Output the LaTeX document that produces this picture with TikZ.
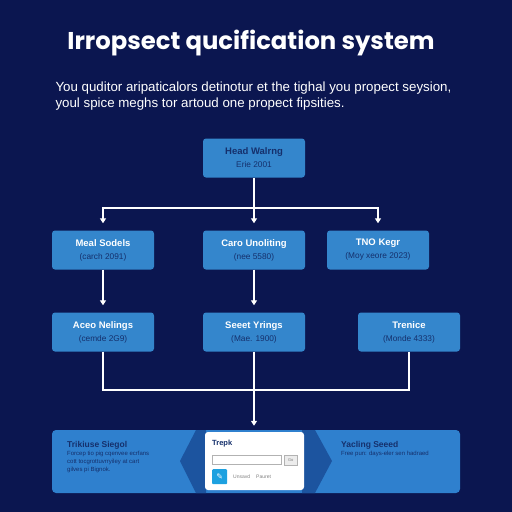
\documentclass[tikz,border=0pt]{standalone}
\usepackage{fontspec}
\setmainfont{Liberation Sans}
\newfontfamily\titlefont{Poppins}
\newfontfamily\symfont{DejaVu Sans}
\usetikzlibrary{arrows.meta}
\definecolor{bg}{HTML}{0B1650}
\definecolor{boxblue}{HTML}{3486CC}
\definecolor{panelblue}{HTML}{2F80CE}
\definecolor{chev}{HTML}{1C549F}
\definecolor{navytext}{HTML}{15306C}
\definecolor{iconblue}{HTML}{1DA1E0}
\newcommand{\hdtxt}[1]{{\bfseries\fontsize{9.5}{11}\selectfont #1}}
\newcommand{\sbtxt}[1]{{\color{navytext}\fontsize{8.3}{10}\selectfont #1}}
\begin{document}
\begin{tikzpicture}[x=1pt,y=-1pt,
  stagebox/.style={draw=none,fill=boxblue,rounded corners=3pt,minimum width=102pt,minimum height=39pt,inner sep=0pt,align=center,text=white},
  conn/.style={draw=white,line width=1.3pt},
  arr/.style={conn,-{Triangle[width=6pt,length=5pt]},shorten >=7pt},
]
\fill[bg] (0,0) rectangle (512,512);
\useasboundingbox (0,0) rectangle (512,512);

\node[text=white,font=\titlefont\bfseries\fontsize{24.3}{28}\selectfont] (title) at (251,43) {Irropsect qucification system};
\node[text=white,anchor=west,align=left,font=\fontsize{13.3}{16}\selectfont] (subt) at (52,96)
  {You quditor aripaticalors detinotur et the tighal you propect seysion,\\ youl spice meghs tor artoud one propect fipsities.};

\node[stagebox] (top) at (254,158) {\color{navytext}\hdtxt{Head Walrng}\\[1pt]\sbtxt{Erie 2001}};

\node[stagebox] (b1) at (103,250) {\hdtxt{Meal Sodels}\\[1pt]\sbtxt{(carch 2091)}};
\node[stagebox] (b2) at (254,250) {\hdtxt{Caro Unoliting}\\[1pt]\sbtxt{(nee 5580)}};
\node[stagebox] (b3) at (378,250) {\hdtxt{TNO Kegr}\\[1pt]\sbtxt{(Moy xeore 2023)}};

\node[stagebox] (c1) at (103,332) {\hdtxt{Aceo Nelings}\\[1pt]\sbtxt{(cemde 2G9)}};
\node[stagebox] (c2) at (254,332) {\hdtxt{Seeet Yrings}\\[1pt]\sbtxt{(Mae. 1900)}};
\node[stagebox] (c3) at (409,332) {\hdtxt{Trenice}\\[1pt]\sbtxt{(Monde 4333)}};

% bottom panel
\fill[panelblue,rounded corners=4pt] (52,430) rectangle (460,493);
\fill[chev] (196,430) -- (180,461) -- (196,493) -- (206,493) -- (206,430) -- cycle;
\fill[chev] (302,430) -- (315,430) -- (332,461) -- (315,493) -- (302,493) -- cycle;
\node[fill=white,rounded corners=3pt,minimum width=99pt,minimum height=58pt,inner sep=0pt] (card) at (254.5,461) {};

\node[anchor=west,text=navytext,font=\bfseries\fontsize{8.5}{10}\selectfont,inner sep=0pt] (lt) at (67,445) {Trikiuse Siegol};
\node[anchor=north west,text=navytext,align=left,font=\fontsize{6}{8}\selectfont,inner sep=0pt] (lb) at (67,451)
  {Forcep tio pig cqenvee ecrfans\\ cott tocgrottuvrryiley at cart\\ gilves pi Bignok.};
\node[anchor=west,text=navytext,font=\bfseries\fontsize{8.5}{10}\selectfont,inner sep=0pt] (rt) at (341,445) {Yacling Seeed};
\node[anchor=north west,text=navytext,align=left,font=\fontsize{6}{8}\selectfont,inner sep=0pt] (rb) at (341,451)
  {Free pun: days-eler sen hadraed};

\node[anchor=west,text=navytext,font=\bfseries\fontsize{7.5}{9}\selectfont,inner sep=0pt] (ct) at (212,444) {Trepk};
\node[draw=gray!60,fill=white,line width=0.5pt,minimum width=69pt,minimum height=9pt,inner sep=0pt,anchor=north west] (field) at (212,455) {};
\node[draw=gray!60,fill=gray!15,line width=0.5pt,minimum width=13pt,minimum height=10pt,inner sep=0pt,anchor=north west,font=\fontsize{4}{5}\selectfont,text=gray] (go) at (284,455) {Go};
\node[fill=iconblue,rounded corners=1pt,minimum size=15pt,inner sep=0pt,anchor=north west,text=white,font=\symfont\fontsize{8}{9}\selectfont] (icon) at (212,469) {✎};
\node[anchor=west,text=gray,font=\fontsize{5}{6}\selectfont,inner sep=0pt] (u1) at (233,477) {Unsavd};
\node[anchor=west,text=gray,font=\fontsize{5}{6}\selectfont,inner sep=0pt] (u2) at (256,477) {Pauret};

% connectors
\coordinate (j) at (254,208);
\draw[conn] (top.south) -- (j);
\draw[arr] (j) -| (b1.north);
\draw[arr] (j) -- (b2.north);
\draw[arr] (j) -| (b3.north);
\draw[arr] (b1.south) -- (c1.north);
\draw[arr] (b2.south) -- (c2.north);
\coordinate (k) at (254,390);
\draw[conn] (c1.south) |- (k);
\draw[conn] (c3.south) |- (k);
\draw[arr,shorten >=6pt] (c2.south) -- (c2.south |- card.north);
\end{tikzpicture}
\end{document}
